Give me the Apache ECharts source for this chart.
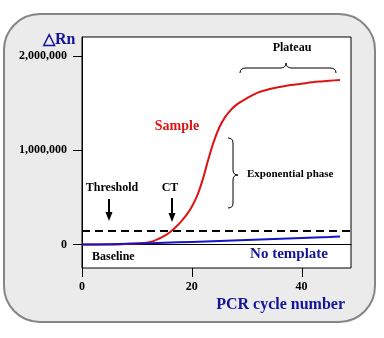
<!DOCTYPE html>
<html><head><meta charset="utf-8">
<script src="https://cdn.jsdelivr.net/npm/echarts@6/dist/echarts.min.js"></script>
<style>html,body{margin:0;padding:0;background:#fff;}#c{width:384px;height:338px;}</style>
</head><body><div id="c"></div>
<script>
// ---- data ----
var sampleCycles = [0,2,4,6,8,10,12,13,14,15,16,17,18,19,20,21,22,23,24,25,26,27,28,29,30,32,34,36,38,40,42,44,46,47];
var sampleValues = [0,0,0,0,5000,10000,20000,35000,60000,90000,130000,180000,240000,310000,400000,520000,690000,900000,1090000,1240000,1345000,1420000,1475000,1515000,1550000,1610000,1645000,1670000,1690000,1705000,1720000,1730000,1740000,1745000];
var ntcCycles = [0,5,10,15,20,25,30,35,40,45,47];
var ntcValues = [0,3000,10000,18000,27000,37000,48000,58000,68000,79000,85000];
var thresholdValue = 145000;
var xTicks = [0,20,40];
var yTicks = [0,1000000,2000000];

function pairs(xs, ys){ return xs.map(function(x,i){ return [x, ys[i]]; }); }

var F = 'Liberation Serif';
var navy = '#141496';

function seg(type, a){
  if (type === 'q') return {type:'bezierCurve', z:10, shape:{x1:a[0], y1:a[1], cpx1:a[2], cpy1:a[3], x2:a[4], y2:a[5]}, style:{fill:null, stroke:'#000', lineWidth:1}};
  return {type:'line', z:10, shape:{x1:a[0], y1:a[1], x2:a[2], y2:a[3]}, style:{stroke:'#000', lineWidth:1}};
}
var braceH = [
  seg('q',[240,73,240,68,246,68]), seg('l',[246,68,280,68]), seg('q',[280,68,286,68,286,63]),
  seg('q',[286,63,286,68,292,68]), seg('l',[292,68,330,68]), seg('q',[330,68,336,68,336,73])
];
var braceV = [
  seg('q',[228,138,233,138,233,143]), seg('l',[233,143,233,170]), seg('q',[233,170,233,175,238,175]),
  seg('q',[238,175,233,175,233,180]), seg('l',[233,180,233,203]), seg('q',[233,203,233,208,228,208])
];

var chart = echarts.init(document.getElementById('c'), null, {renderer:'canvas'});
var baseGraphic = [
    {type:'rect', z:-10, shape:{x:4, y:14, width:371, height:308, r:36}, style:{fill:'#ebebeb', stroke:'#858585', lineWidth:2}},
    {type:'text', z:10, style:{text:'△Rn', x:43, y:40, verticalAlign:'middle', font:'bold 16px "Liberation Serif"', fill:navy}},
    {type:'text', z:10, style:{text:'PCR cycle number', x:345, y:305, align:'right', verticalAlign:'middle', font:'bold 16px "Liberation Serif"', fill:navy}},
    {type:'text', z:10, style:{text:'Plateau', x:292, y:48, align:'center', verticalAlign:'middle', font:'bold 12px "Liberation Serif"', fill:'#000'}},
    {type:'text', z:10, style:{text:'Sample', x:177, y:126, align:'center', verticalAlign:'middle', font:'bold 14px "Liberation Serif"', fill:'#dd1414'}},
    {type:'text', z:10, style:{text:'Exponential phase', x:247, y:174, verticalAlign:'middle', font:'bold 11px "Liberation Serif"', fill:'#000'}},
    {type:'text', z:10, style:{text:'Threshold', x:112, y:188, align:'center', verticalAlign:'middle', font:'bold 12px "Liberation Serif"', fill:'#000'}},
    {type:'line', z:10, shape:{x1:109, y1:199, x2:109, y2:214}, style:{stroke:'#000', lineWidth:2}},
    {type:'polygon', z:10, shape:{points:[[105.5,212],[112.5,212],[109,221]]}, style:{fill:'#000'}},
    {type:'text', z:10, style:{text:'CT', x:170, y:188, align:'center', verticalAlign:'middle', font:'bold 12px "Liberation Serif"', fill:'#000'}},
    {type:'line', z:10, shape:{x1:172, y1:198, x2:172, y2:215}, style:{stroke:'#000', lineWidth:2}},
    {type:'polygon', z:10, shape:{points:[[168.5,213],[175.5,213],[172,222]]}, style:{fill:'#000'}},
    {type:'text', z:10, style:{text:'Baseline', x:92, y:257, verticalAlign:'middle', font:'bold 12px "Liberation Serif"', fill:'#000'}},
    {type:'text', z:10, style:{text:'No template', x:289, y:254, align:'center', verticalAlign:'middle', font:'bold 15px "Liberation Serif"', fill:navy}}
].concat(braceH, braceV);

chart.setOption({
  animation:false,
  backgroundColor:'#ffffff',
  grid:{left:82, top:37, width:269, height:231, show:true, backgroundColor:'#ffffff', borderColor:'#000', borderWidth:1},
  xAxis:{type:'value', min:0, max:49,
    axisLine:{show:true, lineStyle:{color:'#000', width:1}},
    axisTick:{show:false},
    axisLabel:{customValues:xTicks, margin:13, color:'#000', fontFamily:F, fontWeight:'bold', fontSize:12},
    splitLine:{show:false}},
  yAxis:{type:'value', min:-250000, max:2200000,
    axisLine:{show:true, lineStyle:{color:'#000', width:1}},
    axisTick:{show:false},
    axisLabel:{customValues:yTicks, margin:15, color:'#000', fontFamily:F, fontWeight:'bold', fontSize:12,
      formatter:function(v){ return Math.round(v).toString().replace(/\B(?=(\d{3})+(?!\d))/g, ','); }},
    splitLine:{show:false}},
  series:[
    {type:'line', data:pairs(sampleCycles, sampleValues), smooth:0.35, symbol:'none', lineStyle:{color:'#dd1414', width:2}, z:3},
    {type:'line', data:pairs(ntcCycles, ntcValues), smooth:true, symbol:'none', lineStyle:{color:'#1414c8', width:2}, z:4,
      markLine:{silent:true, symbol:'none', label:{show:false}, lineStyle:{color:'#000', type:[8,5], width:2},
        data:[{yAxis:thresholdValue}]}}
  ],
  graphic:baseGraphic
});

// tick marks placed through the axis scales
var tickEls = [];
var yAxisX = chart.convertToPixel({xAxisIndex:0}, 0);
var xAxisY = chart.convertToPixel({yAxisIndex:0}, -250000);
yTicks.forEach(function(v){
  var py = Math.round(chart.convertToPixel({yAxisIndex:0}, v)) + 0.5;
  tickEls.push({type:'line', z:10, shape:{x1:yAxisX-9, y1:py, x2:yAxisX, y2:py}, style:{stroke:'#000', lineWidth:1}});
});
xTicks.forEach(function(v){
  var px = Math.round(chart.convertToPixel({xAxisIndex:0}, v)) + 0.5;
  tickEls.push({type:'line', z:10, shape:{x1:px, y1:xAxisY, x2:px, y2:xAxisY+9}, style:{stroke:'#000', lineWidth:1}});
});
chart.setOption({graphic:baseGraphic.concat(tickEls)});
</script></body></html>
